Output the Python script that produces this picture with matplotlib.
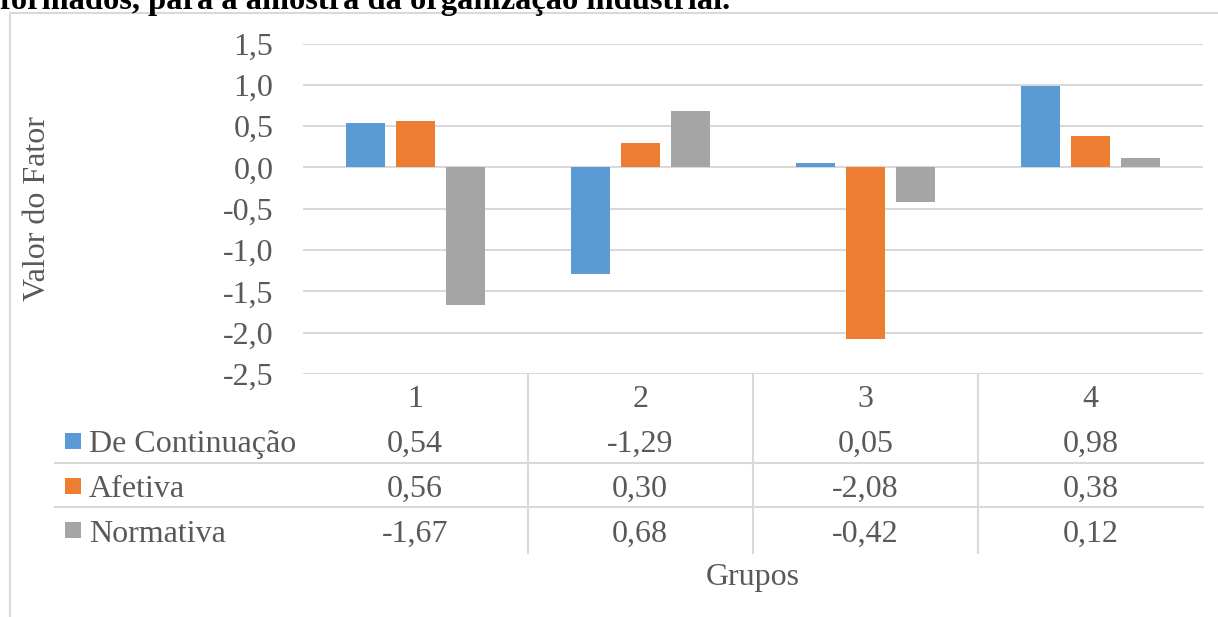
import numpy as np
import matplotlib.pyplot as plt
from matplotlib.patches import Rectangle
from matplotlib.transforms import blended_transform_factory

plt.rcParams['font.family'] = ['Liberation Serif', 'DejaVu Serif']

# dados
grupos = ['1', '2', '3', '4']
de_continuacao = [0.54, -1.29, 0.05, 0.98]
afetiva = [0.56, 0.30, -2.08, 0.38]
normativa = [-1.67, 0.68, -0.42, 0.12]
nomes = ['De Continuação', 'Afetiva', 'Normativa']
cores = ['#5B9BD5', '#ED7D31', '#A5A5A5']
yticks = [-2.5, -2.0, -1.5, -1.0, -0.5, 0.0, 0.5, 1.0, 1.5]
titulo = 'formados, para a amostra da organização industrial.'

series = [de_continuacao, afetiva, normativa]
texto_cor = '#595959'
linha_cor = '#d9d9d9'
fs = 23

W, H = 1218, 617
fig = plt.figure(figsize=(W / 100, H / 100), dpi=100)

# camada de fundo em pixels (moldura, tabela, textos)
bg = fig.add_axes([0, 0, 1, 1])
bg.set_xlim(0, W)
bg.set_ylim(H, 0)
bg.axis('off')

bg.plot([10, 10, W], [H, 12.5, 12.5], color=linha_cor, lw=1.5)
bg.text(0, 9, titulo, fontsize=23.4, fontweight='bold', color='black',
        ha='left', va='baseline')

# area do grafico
x0, x1, y0, y1 = 302.5, 1203, 43.5, 374
ax = fig.add_axes([x0 / W, (H - y1) / H, (x1 - x0) / W, (y1 - y0) / H])
ax.set_facecolor('none')
for s in ax.spines.values():
    s.set_visible(False)
ax.set_xlim(0, 4)
ax.set_ylim(-2.5, 1.5)
ax.set_yticks(yticks)
ax.set_yticklabels([f'{v:.1f}'.replace('.', ',') for v in yticks])
ax.tick_params(axis='y', length=0, pad=21, labelsize=fs, labelcolor=texto_cor)
ax.set_xticks([])
ax.yaxis.grid(True, color=linha_cor, lw=1.5)
ax.set_axisbelow(True)

x = np.arange(len(grupos)) + 0.5
larg = 39 / 225
desloc = [-50 / 225, 0, 50 / 225]
for vals, d, c, n in zip(series, desloc, cores, nomes):
    ax.bar(x + d, vals, width=larg, color=c, label=n, zorder=3)

# tabela de dados
tr = blended_transform_factory(ax.transData, bg.transData)
for xi, g in zip(x, grupos):
    bg.text(xi, 407, g, transform=tr, fontsize=fs, color=texto_cor,
            ha='center', va='baseline')

bases = [452, 497, 542]
centros = [441, 486, 530]
for vals, c, n, b, yc in zip(series, cores, nomes, bases, centros):
    bg.add_patch(Rectangle((65, yc - 8), 16, 16, color=c, lw=0))
    bg.text(89, b, n, fontsize=fs, color=texto_cor, ha='left', va='baseline')
    for xi, v in zip(x, vals):
        bg.text(xi, b, f'{v:.2f}'.replace('.', ','), transform=tr,
                fontsize=fs, color=texto_cor, ha='center', va='baseline')

for yl in [463, 507]:
    bg.plot([55, x1], [yl, yl], color=linha_cor, lw=1.5)
for k in range(1, len(grupos)):
    bg.plot([k, k], [y1, 553], transform=tr, color=linha_cor, lw=1.5)

bg.text(2, 585, 'Grupos', transform=tr, fontsize=fs, color=texto_cor,
        ha='center', va='baseline')
bg.text(38, 209, 'Valor do Fator', fontsize=fs, color=texto_cor,
        rotation=90, ha='center', va='center')

fig.savefig('out.png', dpi=100)
